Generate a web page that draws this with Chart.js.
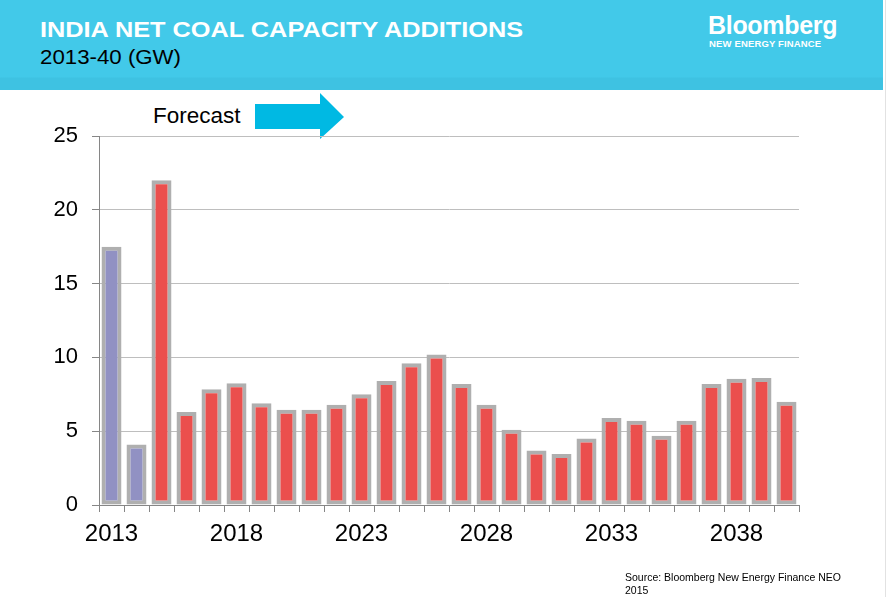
<!DOCTYPE html>
<html>
<head>
<meta charset="utf-8">
<script src="https://cdn.jsdelivr.net/npm/chart.js@4"></script>
<style>
  body { margin: 0; background: #fff; font-family: Arial, "Liberation Sans", sans-serif; }
  #page { position: relative; width: 890px; height: 597px; overflow: hidden; }
  #band { position: absolute; left: 0; top: 0; width: 883px; height: 90px;
          background: linear-gradient(to bottom, #42c9e9 0px, #42c9e9 77px, #3ec2e2 78px, #3ec2e2 90px); }
  #edge { position: absolute; left: 885px; top: 0; width: 1px; height: 597px; background: #e2e2e2; }
  .title { position: absolute; left: 40px; top: 17px; color: #fff; font-weight: bold; font-size: 22px; white-space: nowrap;
           transform: scaleX(1.15); transform-origin: 0 0; }
  .sub { position: absolute; left: 40px; top: 45px; color: #000; font-size: 21px; white-space: nowrap;
         transform: scaleX(1.06); transform-origin: 0 0; }
  .logo { position: absolute; left: 708px; top: 11px; color: #fff; font-weight: bold; font-size: 25px; letter-spacing: -0.3px; }
  .logo2 { position: absolute; left: 709px; top: 38px; color: #fff; font-weight: bold; font-size: 9.5px; white-space: nowrap; letter-spacing: 0.15px; }
  .fc { position: absolute; left: 153px; top: 103px; font-size: 22.5px; color: #000; }
  .src { position: absolute; left: 625px; top: 571px; font-size: 10.5px; line-height: 13px; color: #000; }
  canvas { position: absolute; left: 0; top: 0; }
</style>
</head>
<body>
<div id="page">
  <div id="band"></div>
  <div id="edge"></div>
  <div class="title">INDIA NET COAL CAPACITY ADDITIONS</div>
  <div class="sub">2013-40 (GW)</div>
  <div class="logo">Bloomberg</div>
  <div class="logo2">NEW ENERGY FINANCE</div>
  <div class="fc">Forecast</div>
  <svg style="position:absolute;left:0;top:0" width="890" height="160">
    <polygon points="255,104 320,104 320,93 344,117 320,139 320,129 255,129" fill="#00b9e3"/>
  </svg>
  <canvas id="chart" width="890" height="597"></canvas>
  <div class="src">Source: Bloomberg New Energy Finance NEO<br>2015</div>
</div>
<script>
// DATA
const years = ["2013","2014","2015","2016","2017","2018","2019","2020","2021","2022","2023","2024","2025","2026",
  "2027","2028","2029","2030","2031","2032","2033","2034","2035","2036","2037","2038","2039","2040"];
const additions = [17.5, 4.1, 22.0, 6.3, 7.85, 8.25, 6.9, 6.45, 6.45, 6.8, 7.5, 8.4, 9.6, 10.2,
  8.2, 6.8, 5.1, 3.7, 3.45, 4.5, 5.9, 5.7, 4.7, 5.7, 8.2, 8.55, 8.6, 7.0];
const actualYears = 2; // first two bars are historic, rest forecast
const yTicks = [0, 5, 10, 15, 20, 25];

const barColors = years.map((y, i) => i < actualYears ? "#9191c3" : "#eb4f4d");

// CHART
new Chart(document.getElementById("chart"), {
  type: "bar",
  data: {
    labels: years,
    datasets: [{
      data: additions,
      backgroundColor: barColors,
      borderColor: "#afafaf",
      borderWidth: 4,
      borderSkipped: false,
      barPercentage: 0.8,
      categoryPercentage: 1.0
    }]
  },
  options: {
    responsive: false,
    animation: false,
    layout: { padding: { left: 0, right: 91, top: 136, bottom: 0 } },
    plugins: { legend: { display: false }, tooltip: { enabled: false } },
    scales: {
      x: {
        afterFit: s => { s.height = 92; },
        grid: { drawOnChartArea: false, tickLength: 7, tickColor: "#868686", offset: true },
        border: { color: "#868686", width: 1 },
        ticks: {
          autoSkip: false, maxRotation: 0, padding: 8, color: "#000",
          font: { family: "'Liberation Sans', Arial", size: 24 },
          callback: (v, i) => i % 5 === 0 ? years[i] : ""
        }
      },
      y: {
        min: yTicks[0], max: yTicks[yTicks.length - 1],
        afterFit: s => { s.width = 99; },
        afterBuildTicks: s => { s.ticks = yTicks.map(v => ({ value: v })); },
        grid: { color: "#bebebe", tickLength: 7, tickColor: "#868686" },
        border: { color: "#868686", width: 1 },
        ticks: { padding: 14, color: "#000", font: { family: "'Liberation Sans', Arial", size: 22 } }
      }
    }
  }
});
</script>
</body>
</html>
